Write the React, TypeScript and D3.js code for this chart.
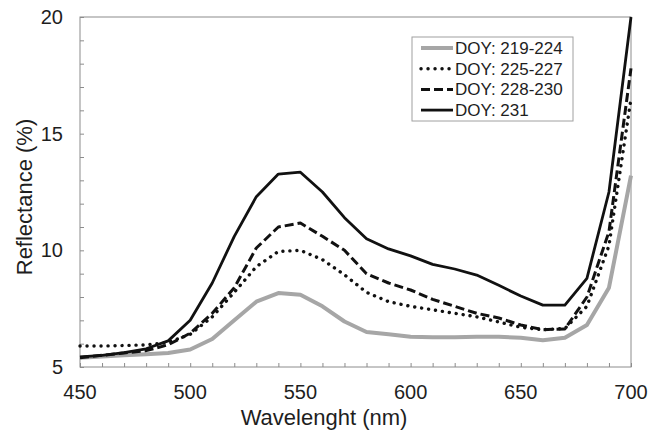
import React, { useEffect, useRef } from 'react';
import * as d3 from 'd3';

// Wavelength grid (nm)
const wavelengths = [
  450, 460, 470, 480, 490, 500, 510, 520, 530, 540, 550, 560, 570,
  580, 590, 600, 610, 620, 630, 640, 650, 660, 670, 680, 690, 700,
];

// Reflectance (%) per period
const doy219_224 = [
  5.4, 5.45, 5.5, 5.55, 5.6, 5.75, 6.2, 7.0, 7.8, 8.17, 8.1, 7.6, 6.95,
  6.5, 6.4, 6.3, 6.27, 6.27, 6.3, 6.3, 6.25, 6.15, 6.25, 6.8, 8.4, 13.2,
];
const doy225_227 = [
  5.9, 5.9, 5.92, 5.95, 6.05, 6.4, 7.15, 8.2, 9.3, 9.95, 10.0, 9.6, 8.95,
  8.2, 7.8, 7.6, 7.45, 7.3, 7.15, 6.93, 6.7, 6.6, 6.65, 7.6, 10.2, 16.5,
];
const doy228_230 = [
  5.4, 5.5, 5.6, 5.7, 5.95, 6.45, 7.3, 8.4, 10.1, 11.0, 11.17, 10.6, 10.0,
  9.0, 8.6, 8.3, 7.9, 7.6, 7.3, 7.1, 6.8, 6.6, 6.63, 8.0, 10.8, 17.8,
];
const doy231 = [
  5.43, 5.5, 5.62, 5.78, 6.12, 7.0, 8.6, 10.6, 12.3, 13.27, 13.35, 12.5, 11.4,
  10.5, 10.06, 9.76, 9.4, 9.2, 8.94, 8.5, 8.04, 7.65, 7.65, 8.8, 12.5, 20.0,
];

const seriesLabels = ['DOY: 219-224', 'DOY: 225-227', 'DOY: 228-230', 'DOY: 231'];
const seriesValues = [doy219_224, doy225_227, doy228_230, doy231];

const xTicks = [450, 500, 550, 600, 650, 700];
const yTicks = [5, 10, 15, 20];

const FONT = '"Liberation Sans", Arial, sans-serif';
const TEXT = '#1e1e1e';
const FRAME = '#8c8c8c';

// line look per series
const styles = [
  { stroke: '#a6a6a6', width: 4, dash: null, cap: 'butt' },
  { stroke: '#111', width: 3.4, dash: '0.1,6.9', cap: 'round' },
  { stroke: '#111', width: 3, dash: '9,4', cap: 'butt' },
  { stroke: '#111', width: 2.8, dash: null, cap: 'butt' },
];

const App = () => {
  const svgRef = useRef<SVGSVGElement>(null);

  useEffect(() => {
    const svg = d3.select(svgRef.current);
    svg.selectAll('*').remove();

    const W = 649;
    const H = 434;
    const margin = { top: 17, right: 18, bottom: 67, left: 80 };
    const width = W - margin.left - margin.right;
    const height = H - margin.top - margin.bottom;

    svg.attr('width', W).attr('height', H).attr('viewBox', `0 0 ${W} ${H}`);

    const g = svg.append('g').attr('transform', `translate(${margin.left},${margin.top})`);

    const x = d3.scaleLinear().domain([450, 700]).range([0, width]);
    const y = d3.scaleLinear().domain([5, 20]).range([height, 0]);

    // plot frame
    g.append('rect')
      .attr('x', 0)
      .attr('y', 0)
      .attr('width', width)
      .attr('height', height)
      .attr('fill', 'none')
      .attr('stroke', FRAME)
      .attr('stroke-width', 1);

    // minor/major inward ticks
    const xAxis = g.append('g')
      .attr('transform', `translate(0,${height})`)
      .call(d3.axisBottom(x).ticks(25).tickSize(-4).tickFormat(() => ''));
    xAxis.select('.domain').remove();
    xAxis.selectAll('line').attr('stroke', FRAME);

    const yAxis = g.append('g')
      .call(d3.axisLeft(y).ticks(15).tickSize(-4).tickFormat(() => ''));
    yAxis.select('.domain').remove();
    yAxis.selectAll('line').attr('stroke', FRAME);

    // tick labels
    g.selectAll('.xlab')
      .data(xTicks)
      .enter().append('text')
      .attr('x', d => x(d))
      .attr('y', height + 32)
      .attr('text-anchor', 'middle')
      .style('font-family', FONT)
      .style('font-size', '20px')
      .attr('fill', TEXT)
      .text(d => d);

    g.selectAll('.ylab')
      .data(yTicks)
      .enter().append('text')
      .attr('x', -17)
      .attr('y', d => y(d))
      .attr('dy', '0.35em')
      .attr('text-anchor', 'end')
      .style('font-family', FONT)
      .style('font-size', '20px')
      .attr('fill', TEXT)
      .text(d => d);

    // axis titles
    svg.append('text')
      .attr('transform', `translate(324,425)`)
      .attr('text-anchor', 'middle')
      .style('font-family', FONT)
      .style('font-size', '22px')
      .attr('fill', TEXT)
      .text('Wavelenght (nm)');

    svg.append('text')
      .attr('transform', 'translate(32,197) rotate(-90)')
      .attr('text-anchor', 'middle')
      .style('font-family', FONT)
      .style('font-size', '22px')
      .attr('fill', TEXT)
      .text('Reflectance (%)');

    // series lines
    const line = d3.line<number>()
      .x((d, i) => x(wavelengths[i]))
      .y(d => y(d));

    seriesValues.forEach((vals, k) => {
      const s = styles[k];
      const p = g.append('path')
        .datum(vals)
        .attr('fill', 'none')
        .attr('stroke', s.stroke)
        .attr('stroke-width', s.width)
        .attr('stroke-linejoin', 'round')
        .attr('stroke-linecap', s.cap)
        .attr('d', line);
      if (s.dash) p.attr('stroke-dasharray', s.dash);
    });

    // legend
    const legend = svg.append('g').attr('transform', 'translate(412,37)');
    legend.append('rect')
      .attr('width', 161)
      .attr('height', 84)
      .attr('fill', '#fff')
      .attr('stroke', '#a0a0a0')
      .attr('stroke-width', 1);

    const items = legend.selectAll('.legend-item')
      .data(seriesLabels)
      .enter().append('g')
      .attr('transform', (d, i) => `translate(0, ${11 + i * 20.7})`);

    items.append('line')
      .attr('x1', 9)
      .attr('x2', 41)
      .attr('y1', 0)
      .attr('y2', 0)
      .attr('stroke', (d, i) => styles[i].stroke)
      .attr('stroke-width', (d, i) => styles[i].width)
      .attr('stroke-linecap', (d, i) => styles[i].cap)
      .attr('stroke-dasharray', (d, i) => styles[i].dash || null);

    items.append('text')
      .attr('x', 43)
      .attr('y', 0)
      .attr('dy', '0.35em')
      .style('font-family', FONT)
      .style('font-size', '17px')
      .attr('fill', TEXT)
      .text(d => d);
  }, []);

  return (
    <svg
      ref={svgRef}
      style={{ position: 'absolute', left: 0, top: 0, display: 'block', background: '#fff' }}
    />
  );
};

export default App;
